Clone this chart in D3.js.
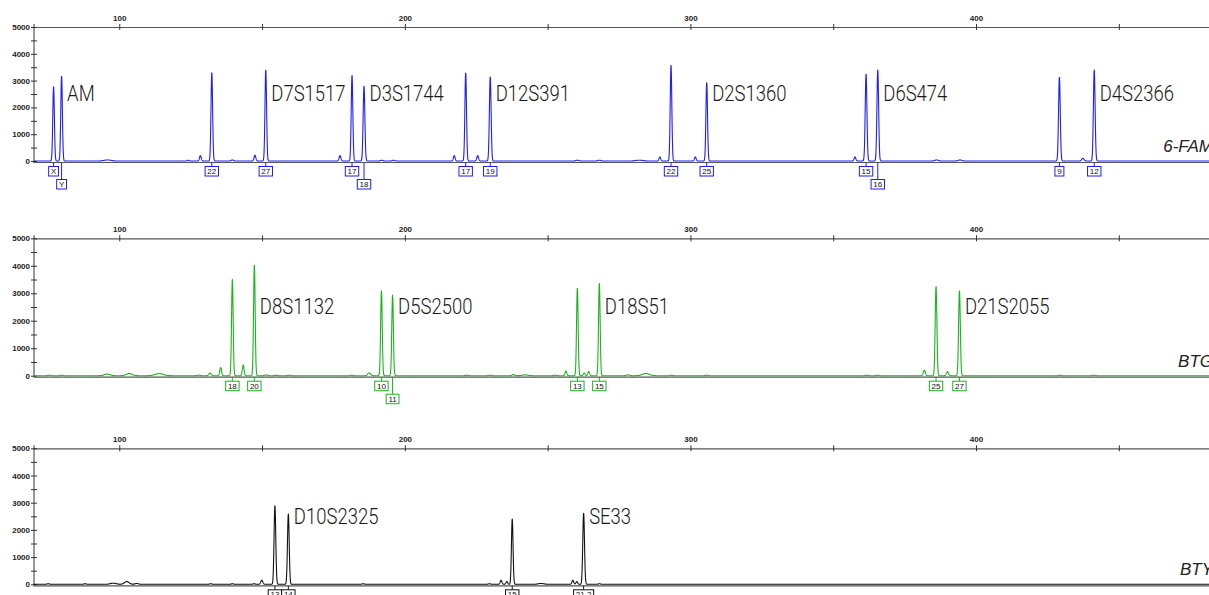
<!DOCTYPE html>
<html><head><meta charset="utf-8">
<script src="https://cdn.jsdelivr.net/npm/d3@7"></script>
<style>body{margin:0;background:#fff;overflow:hidden}svg{display:block}</style>
</head><body><svg id="c" width="1209" height="595"></svg>
<script>
// ---------- data ----------
const dyes = ["6-FAM", "BTG", "BTY"];
const xTicks = [100, 150, 200, 250, 300, 350, 400, 450];
const xTickLabels = ["100", "", "200", "", "300", "", "400", ""];
const yTicks = [0, 500, 1000, 1500, 2000, 2500, 3000, 3500, 4000, 4500, 5000];
const yTickLabels = ["0", "", "1000", "", "2000", "", "3000", "", "4000", "", "5000"];

// peaks: [size (bp), height (RFU), peak sigma (bp)]
const famPeaks = [
  [77.0, 2770, 0.28], [79.8, 3160, 0.28], [95.9, 40, 1.2], [124.2, 30, 0.3], [128.4, 200, 0.3],
  [132.4, 3290, 0.28], [139.6, 40, 0.4], [147.5, 220, 0.3], [151.3, 3390, 0.28],
  [177.3, 200, 0.3], [181.5, 3200, 0.28], [185.7, 2790, 0.3], [191.9, 30, 0.4], [196.0, 30, 0.4],
  [217.3, 200, 0.3], [221.3, 3290, 0.28], [225.5, 200, 0.3], [229.9, 3140, 0.3],
  [260.4, 30, 0.5], [268.1, 30, 0.5], [282.1, 30, 1.2], [289.3, 150, 0.3], [293.2, 3570, 0.28],
  [301.7, 150, 0.3], [305.7, 2930, 0.28], [357.6, 150, 0.3], [361.5, 3240, 0.3], [365.6, 3390, 0.3],
  [386.2, 40, 0.6], [394.4, 40, 0.6], [429.2, 3120, 0.3], [437.4, 100, 0.4], [441.4, 3390, 0.3]
];
const btgPeaks = [
  [75.5, 20, 0.4], [79.8, 20, 0.4], [95.8, 60, 1.0], [103.5, 80, 1.0], [114.0, 80, 1.4],
  [127.9, 20, 0.4], [131.8, 100, 0.4], [135.5, 300, 0.3], [139.6, 3510, 0.28], [143.4, 390, 0.3],
  [147.3, 4030, 0.28], [151.4, 30, 0.4], [154.9, 20, 0.4], [159.5, 20, 0.4], [181.4, 20, 0.4],
  [187.5, 100, 0.5], [191.8, 3090, 0.28], [195.7, 2940, 0.28], [221.7, 20, 0.4], [229.8, 20, 0.4],
  [238.0, 40, 0.4], [242.1, 30, 1.0], [252.6, 20, 0.4], [256.4, 170, 0.3], [260.4, 3180, 0.28],
  [262.8, 100, 0.3], [264.4, 150, 0.3], [268.1, 3360, 0.28], [278.2, 30, 0.5], [284.4, 80, 1.2],
  [293.4, 20, 0.4], [305.7, 20, 0.4], [361.7, 20, 0.4], [365.6, 20, 0.4], [381.9, 200, 0.35],
  [386.0, 3240, 0.3], [390.0, 150, 0.35], [394.2, 3090, 0.3], [429.4, 20, 0.4], [441.3, 20, 0.4]
];
const btyPeaks = [
  [75.1, 20, 0.4], [88.0, 20, 0.4], [97.9, 40, 1.0], [102.6, 100, 0.8], [106.1, 30, 0.6],
  [132.0, 20, 0.4], [139.6, 20, 0.4], [147.2, 20, 0.4], [149.9, 150, 0.35], [154.5, 2890, 0.3],
  [159.2, 2580, 0.3], [185.4, 20, 0.4], [229.6, 20, 0.4], [233.7, 150, 0.3], [235.7, 100, 0.3],
  [237.6, 2400, 0.28], [247.7, 30, 1.0], [258.8, 150, 0.3], [260.2, 100, 0.3], [262.6, 2610, 0.3],
  [268.1, 20, 0.4]
];

// markers, allele calls and their sizes (bp)
const famMarkers = ["AM", "D7S1517", "D3S1744", "D12S391", "D2S1360", "D6S474", "D4S2366"];
const famAlleles = [["X", "Y"], ["22", "27"], ["17", "18"], ["17", "19"], ["22", "25"], ["15", "16"], ["9", "12"]];
const famSizes = [[77.0, 79.8], [132.4, 151.3], [181.5, 185.7], [221.3, 229.9], [293.2, 305.7], [361.5, 365.6], [429.2, 441.4]];

const btgMarkers = ["D8S1132", "D5S2500", "D18S51", "D21S2055"];
const btgAlleles = [["18", "20"], ["10", "11"], ["13", "15"], ["25", "27"]];
const btgSizes = [[139.6, 147.3], [191.8, 195.7], [260.4, 268.1], [386.0, 394.2]];

const btyMarkers = ["D10S2325", "SE33"];
const btyAlleles = [["13", "14"], ["15", "21.2"]];
const btySizes = [[154.5, 159.2], [237.6, 262.6]];

const xDomain = [70, 482];
const yDomain = [0, 5000];

// ---------- drawing ----------
const panels = [
  {dye: dyes[0], color: "#1e1ef5", peaks: famPeaks, markers: famMarkers, alleles: famAlleles, sizes: famSizes},
  {dye: dyes[1], color: "#1cb41c", peaks: btgPeaks, markers: btgMarkers, alleles: btgAlleles, sizes: btgSizes},
  {dye: dyes[2], color: "#111111", peaks: btyPeaks, markers: btyMarkers, alleles: btyAlleles, sizes: btySizes}
];
const tops = [27, 238.3, 448.3];
const zeros = [161, 375.7, 584.3];

const svg = d3.select("#c");
const x = d3.scaleLinear().domain(xDomain).range([33.6, 1210.2]);
const axisColor = "#555";

panels.forEach((p, i) => {
  const y = d3.scaleLinear().domain(yDomain).range([zeros[i], tops[i]]);
  const g = svg.append("g");

  // top size axis
  const topAxis = d3.axisTop(x).tickValues(xTicks).tickSize(3)
    .tickFormat((d, k) => xTickLabels[k]);
  const ta = g.append("g").attr("transform", `translate(0,${tops[i]})`).call(topAxis);
  ta.select(".domain").attr("stroke", axisColor).attr("stroke-width", 1.2);
  ta.selectAll(".tick line").attr("stroke", "#333").attr("y1", 3).attr("y2", -3);
  ta.selectAll(".tick text").attr("y", -6).attr("font-size", 8).attr("font-family", "Arial, 'Liberation Sans', sans-serif").attr("fill", "#222").attr("font-weight", "bold");

  // left RFU axis
  const leftAxis = d3.axisLeft(y).tickValues(yTicks).tickSize(3)
    .tickFormat((d, k) => yTickLabels[k]);
  const la = g.append("g").attr("transform", `translate(${x(xDomain[0]) + 0.4},0)`).call(leftAxis);
  la.select(".domain").attr("stroke", axisColor).attr("stroke-width", 1.2).attr("d", `M0,${tops[i]}V${zeros[i] + 1.5}`);
  la.selectAll(".tick line").attr("stroke", "#333").attr("x1", 3).attr("x2", -3);
  la.selectAll(".tick text").attr("x", -4).attr("font-size", 8).attr("font-family", "Arial, 'Liberation Sans', sans-serif").attr("fill", "#222").attr("font-weight", "bold");

  // bottom baseline axis
  g.append("line").attr("x1", x(xDomain[0])).attr("x2", x(xDomain[1]))
    .attr("y1", zeros[i] + 1.5).attr("y2", zeros[i] + 1.5)
    .attr("stroke", axisColor).attr("stroke-width", 1.2);

  // electropherogram trace
  const pts = d3.range(xDomain[0], xDomain[1], 0.04).map(bp => {
    let v = 0;
    p.peaks.forEach(([c, h, s]) => { const z = (bp - c) / s; if (Math.abs(z) < 6) v += h * Math.exp(-0.5 * z * z); });
    return [bp, v];
  });
  g.append("path").datum(pts)
    .attr("d", d3.line().x(d => x(d[0])).y(d => y(d[1])))
    .attr("fill", "none").attr("stroke", p.color).attr("stroke-width", 1.1)
    .attr("stroke-linejoin", "round");

  // marker labels (light, condensed)
  p.markers.forEach((m, k) => {
    const last = d3.max(p.sizes[k]);
    g.append("text")
      .attr("transform", `translate(${x(last) + 5.5},${y(2230)}) scale(0.86,1)`)
      .attr("font-family", "Roboto, 'Liberation Sans Narrow', sans-serif").attr("font-weight", 300)
      .attr("font-size", 21.5).attr("fill", "#1a1a1a").text(m);
  });

  // allele call boxes
  const calls = [];
  p.alleles.forEach((arr, k) => arr.forEach((a, j) => calls.push({label: a, bp: p.sizes[k][j]})));
  calls.sort((a, b) => a.bp - b.bp);
  const rowRight = [-Infinity, -Infinity];
  const boxTop = zeros[i] + 5.5, boxH = 9.5, rowGap = 13;
  calls.forEach(c => {
    const cx = x(c.bp);
    const t = g.append("text").attr("font-family", "Arial, 'Liberation Sans', sans-serif")
      .attr("font-size", 8).attr("fill", "#111").attr("text-anchor", "middle").text(c.label);
    const w = t.node().getComputedTextLength() + 4.5;
    let row = (cx - w / 2 < rowRight[0] - 1) ? 1 : 0;
    rowRight[row] = cx + w / 2;
    const top = boxTop + row * rowGap;
    g.append("line").attr("x1", cx).attr("x2", cx).attr("y1", zeros[i] + 1.5).attr("y2", top)
      .attr("stroke", p.color).attr("stroke-width", 1);
    g.append("rect").attr("x", cx - w / 2).attr("y", top).attr("width", w).attr("height", boxH)
      .attr("fill", "#fff").attr("stroke", p.color).attr("stroke-width", 1);
    t.attr("x", cx).attr("y", top + boxH - 2).raise();
  });

  // dye name
  g.append("text").attr("x", 1213).attr("y", zeros[i] - 9).attr("text-anchor", "end")
    .attr("font-family", "Arial, 'Liberation Sans', sans-serif").attr("font-style", "italic")
    .attr("font-size", 17).attr("fill", "#222").text(p.dye);
});
</script></body></html>
